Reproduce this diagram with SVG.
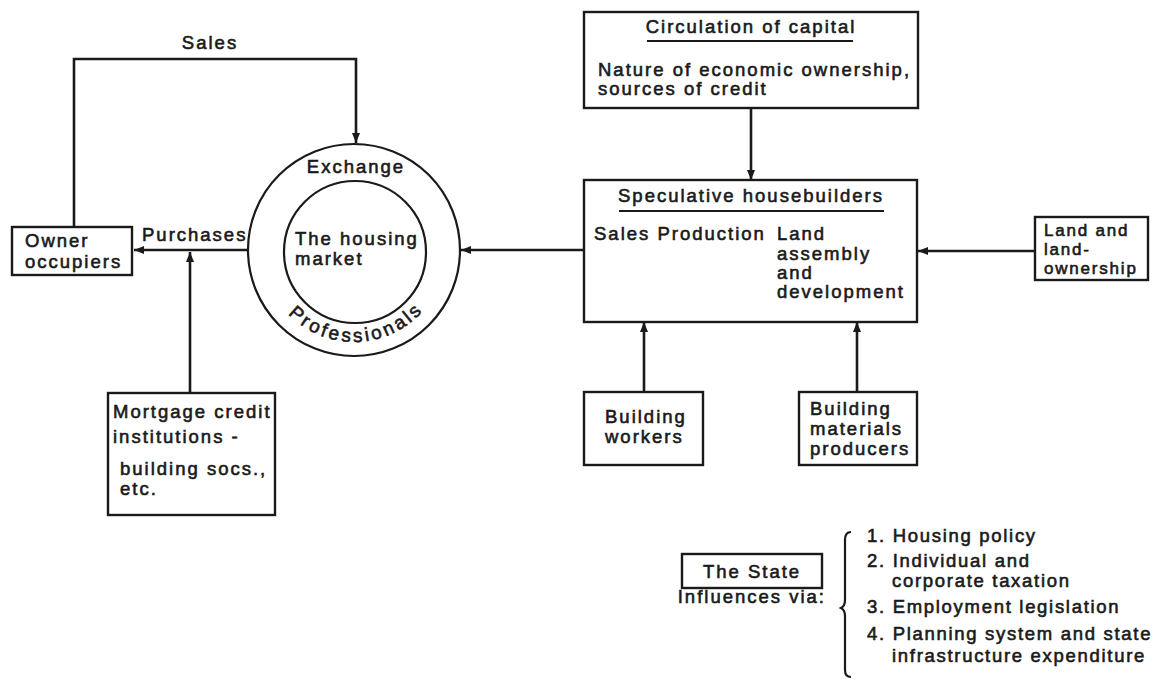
<svg xmlns="http://www.w3.org/2000/svg" width="1158" height="680" viewBox="0 0 1158 680">
  <style>
    .box { fill: none; stroke: #1a1a1a; stroke-width: 2.4; }
    .ring { fill: none; stroke: #1a1a1a; stroke-width: 2.2; }
    .link { fill: none; stroke: #1a1a1a; stroke-width: 2.6; }
    text { font-family: "Liberation Sans", Arial, sans-serif; font-size: 18.5px; letter-spacing: 2px; fill: #1a1a1a; stroke: #1a1a1a; stroke-width: 0.6px; }
    .mid { text-anchor: middle; }
    .end { text-anchor: end; }
    .tight { font-size: 17px; letter-spacing: 1.8px; }
    .list { letter-spacing: 1.7px; }
    .rule { stroke: #1a1a1a; stroke-width: 2; }
  </style>
  <defs>
    <marker id="head" viewBox="0 0 10 8" refX="10" refY="4" markerWidth="10" markerHeight="8" markerUnits="userSpaceOnUse" orient="auto">
      <path d="M0,0 L10,4 L0,8 Z" fill="#1a1a1a"/>
    </marker>
    <path id="ringBottom" d="M 262 250 A 92 92 0 0 0 446 250"/>
  </defs>
  <rect width="1158" height="680" fill="#ffffff"/>

  <!-- connectors -->
  <g id="connectors">
    <path class="link" d="M 74 227 V 59 H 356 V 143" marker-end="url(#head)"/>
    <path class="link" d="M 249 250 H 134" marker-end="url(#head)"/>
    <path class="link" d="M 190 393 V 252" marker-end="url(#head)"/>
    <path class="link" d="M 584 250 H 461" marker-end="url(#head)"/>
    <path class="link" d="M 751 108 V 180" marker-end="url(#head)"/>
    <path class="link" d="M 1035 251 H 918" marker-end="url(#head)"/>
    <path class="link" d="M 644 392 V 322" marker-end="url(#head)"/>
    <path class="link" d="M 857 392 V 322" marker-end="url(#head)"/>
    <text class="mid" x="210" y="49">Sales</text>
    <text x="142" y="241">Purchases</text>
  </g>

  <!-- owner occupiers -->
  <g id="owner-occupiers">
    <rect class="box" x="12" y="227" width="120" height="48"/>
    <text x="25" y="247">Owner</text>
    <text x="25" y="268">occupiers</text>
  </g>

  <!-- the housing market -->
  <g id="housing-market">
    <circle class="ring" cx="354" cy="250" r="106"/>
    <circle class="ring" cx="355" cy="252" r="71"/>
    <text class="mid" x="356" y="173">Exchange</text>
    <text x="295" y="245">The housing</text>
    <text x="295" y="265">market</text>
    <text style="font-size:19px;letter-spacing:3px"><textPath href="#ringBottom" startOffset="51%" text-anchor="middle">Professionals</textPath></text>
  </g>

  <!-- mortgage credit institutions -->
  <g id="mortgage-credit">
    <rect class="box" x="108" y="393" width="167" height="122"/>
    <text x="113" y="418">Mortgage credit</text>
    <text x="113" y="443">institutions -</text>
    <text x="120" y="475">building socs.,</text>
    <text x="120" y="495">etc.</text>
  </g>

  <!-- circulation of capital -->
  <g id="circulation-of-capital">
    <rect class="box" x="584" y="12" width="334" height="96"/>
    <text class="mid" x="751" y="33">Circulation of capital</text>
    <line class="rule" x1="647" y1="41" x2="853" y2="41"/>
    <text x="598" y="76">Nature of economic ownership,</text>
    <text x="598" y="95">sources of credit</text>
  </g>

  <!-- speculative housebuilders -->
  <g id="speculative-housebuilders">
    <rect class="box" x="584" y="180" width="333" height="142"/>
    <text class="mid" x="751" y="202">Speculative housebuilders</text>
    <line class="rule" x1="619" y1="211" x2="884" y2="211"/>
    <text x="594" y="240">Sales Production</text>
    <text x="777" y="240">Land</text>
    <text x="777" y="259.5">assembly</text>
    <text x="777" y="279">and</text>
    <text x="777" y="298">development</text>
  </g>

  <!-- land and land-ownership -->
  <g id="land-ownership">
    <rect class="box" x="1035" y="217" width="113" height="63"/>
    <text class="tight" x="1044" y="236">Land and</text>
    <text class="tight" x="1044" y="255">land-</text>
    <text class="tight" x="1044" y="274">ownership</text>
  </g>

  <!-- building workers -->
  <g id="building-workers">
    <rect class="box" x="584" y="392" width="119" height="73"/>
    <text x="605" y="423">Building</text>
    <text x="605" y="443">workers</text>
  </g>

  <!-- building materials producers -->
  <g id="building-materials">
    <rect class="box" x="799" y="392" width="118" height="73"/>
    <text x="810" y="415">Building</text>
    <text x="810" y="435">materials</text>
    <text x="810" y="455">producers</text>
  </g>

  <!-- the state and its channels of influence -->
  <g id="the-state">
    <rect class="box" x="682" y="554" width="140" height="34"/>
    <text class="mid" x="752" y="578">The State</text>
    <text class="end" x="826" y="603">Influences via:</text>
    <path class="link" style="stroke-width:2.2" d="M 851 532 Q 845 532 845 540 V 600 Q 845 606 841 608 Q 845 610 845 616 V 670 Q 845 677 851 677"/>
    <text class="list" x="867" y="542">1. Housing policy</text>
    <text class="list" x="867" y="567">2. Individual and</text>
    <text class="list" x="892" y="587">corporate taxation</text>
    <text class="list" x="867" y="613">3. Employment legislation</text>
    <text class="list" x="867" y="640">4. Planning system and state</text>
    <text class="list" x="892" y="662">infrastructure expenditure</text>
  </g>
</svg>
